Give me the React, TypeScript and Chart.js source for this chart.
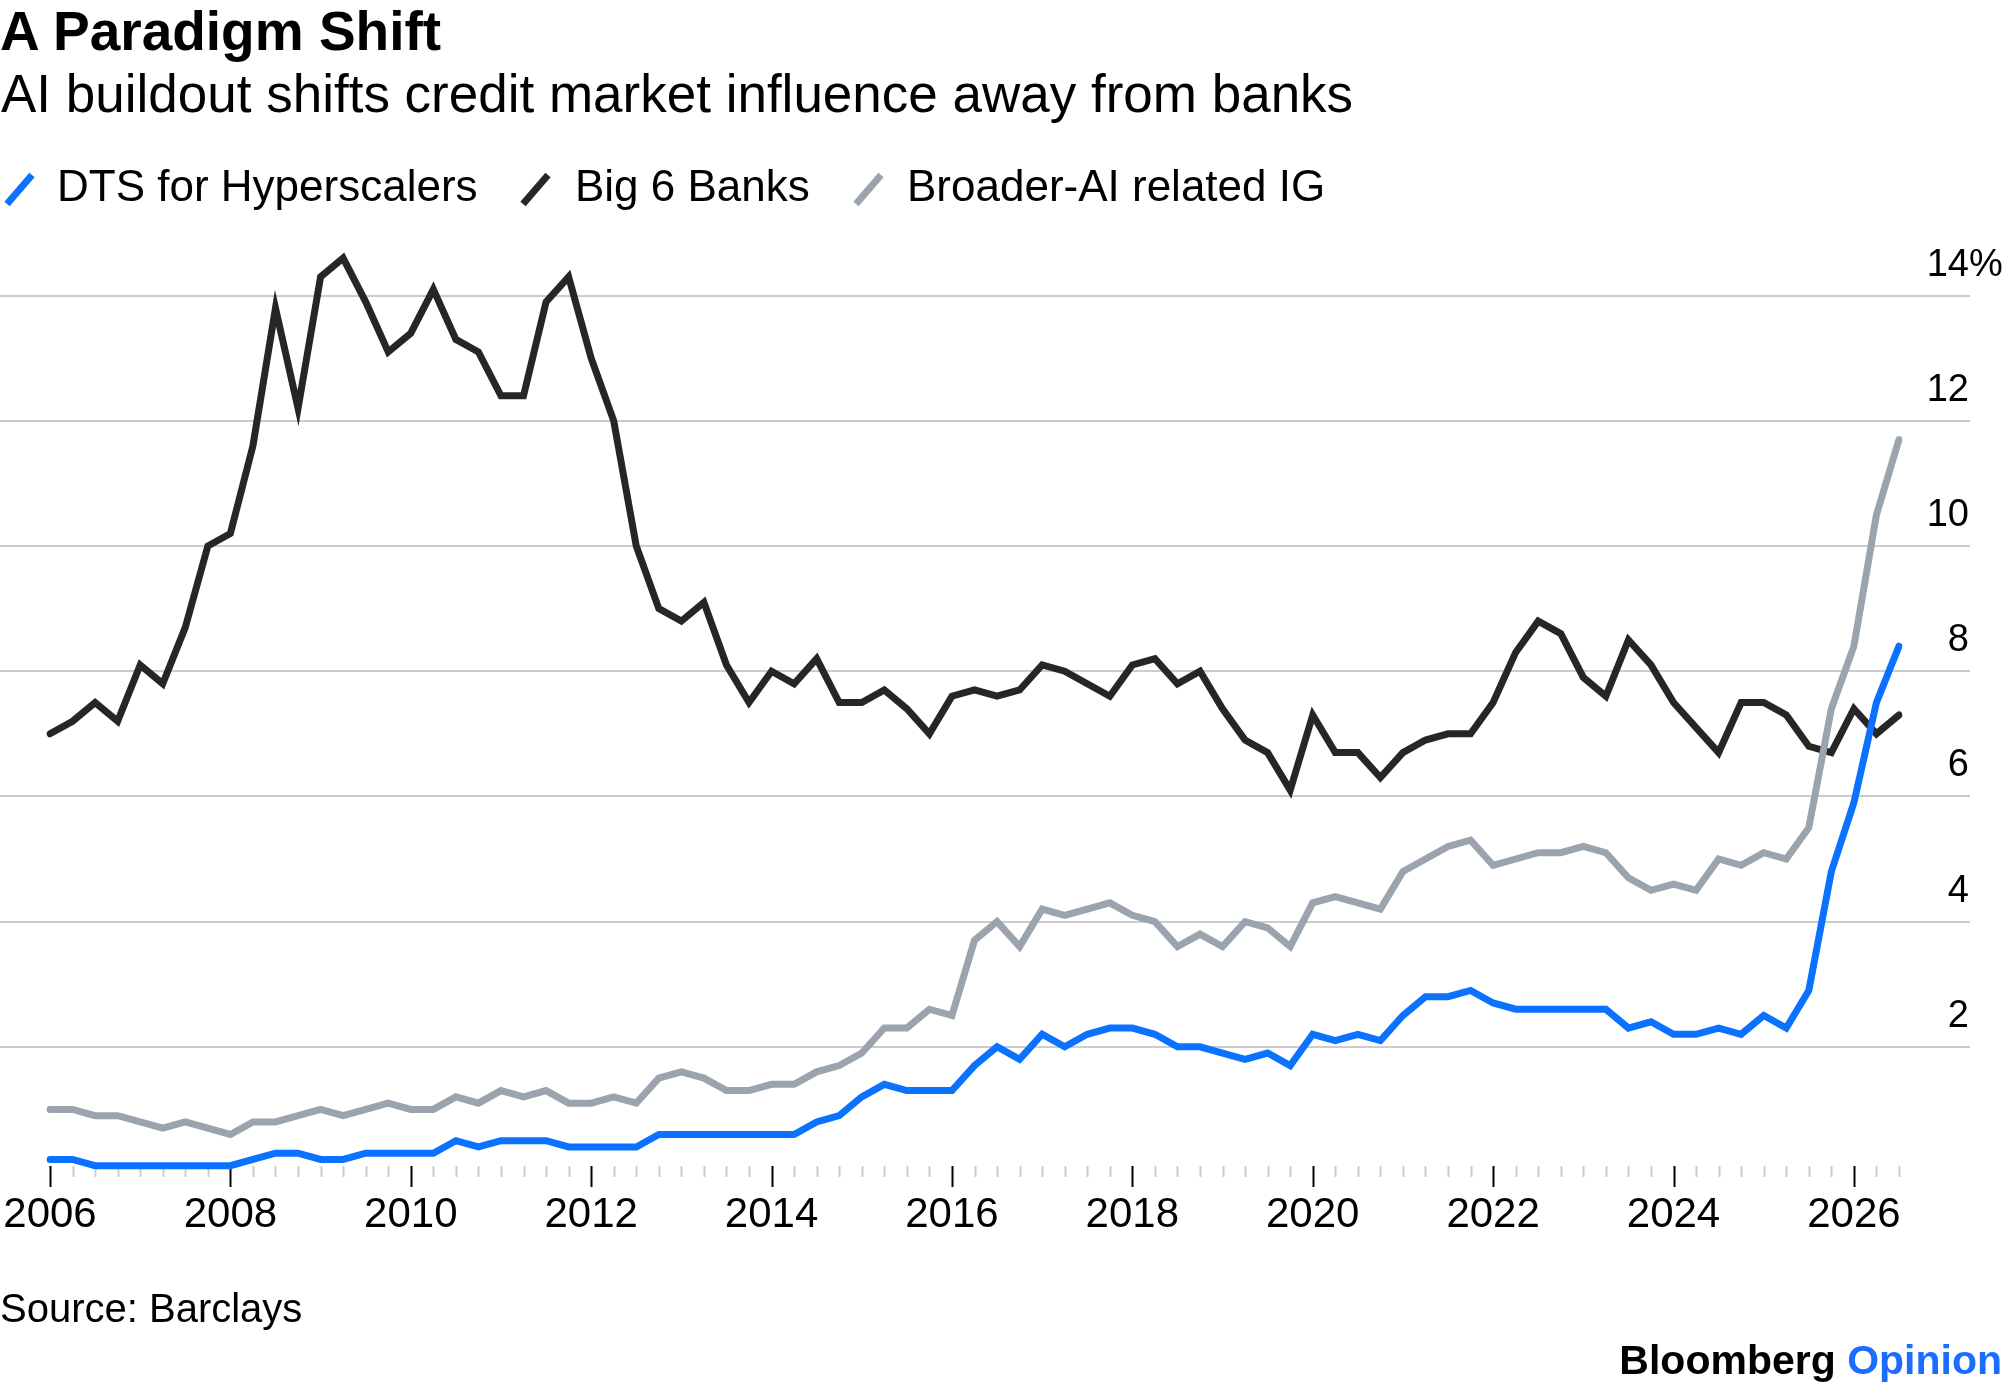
import { useEffect, useRef } from "react"
import { Chart, registerables } from "chart.js"

Chart.register(...registerables)

const FONT = '"Liberation Sans", Arial, Helvetica, sans-serif'

// quarterly observations, 2006 Q1 through 2026 Q3
const firstYear = 2006
const pointCount = 83
const quarters: string[] = []
for (let i = 0; i < pointCount; i++) {
  quarters.push(`${firstYear + Math.floor(i / 4)} Q${(i % 4) + 1}`)
}

const tickYears = [2006, 2008, 2010, 2012, 2014, 2016, 2018, 2020, 2022, 2024, 2026]
const yTicks = [2, 4, 6, 8, 10, 12, 14]

const hyperscalers = [
  0.2, 0.2, 0.1, 0.1, 0.1, 0.1, 0.1, 0.1, 0.1, 0.2, 0.3, 0.3, 0.2, 0.2, 0.3, 0.3,
  0.3, 0.3, 0.5, 0.4, 0.5, 0.5, 0.5, 0.4, 0.4, 0.4, 0.4, 0.6, 0.6, 0.6, 0.6, 0.6,
  0.6, 0.6, 0.8, 0.9, 1.2, 1.4, 1.3, 1.3, 1.3, 1.7, 2.0, 1.8, 2.2, 2.0, 2.2, 2.3,
  2.3, 2.2, 2.0, 2.0, 1.9, 1.8, 1.9, 1.7, 2.2, 2.1, 2.2, 2.1, 2.5, 2.8, 2.8, 2.9,
  2.7, 2.6, 2.6, 2.6, 2.6, 2.6, 2.3, 2.4, 2.2, 2.2, 2.3, 2.2, 2.5, 2.3, 2.9, 4.8,
  5.9, 7.5, 8.4,
]

const big6Banks = [
  7.0, 7.2, 7.5, 7.2, 8.1, 7.8, 8.7, 10.0, 10.2, 11.6, 13.8, 12.2, 14.3, 14.6, 13.9, 13.1,
  13.4, 14.1, 13.3, 13.1, 12.4, 12.4, 13.9, 14.3, 13.0, 12.0, 10.0, 9.0, 8.8, 9.1, 8.1, 7.5,
  8.0, 7.8, 8.2, 7.5, 7.5, 7.7, 7.4, 7.0, 7.6, 7.7, 7.6, 7.7, 8.1, 8.0, 7.8, 7.6,
  8.1, 8.2, 7.8, 8.0, 7.4, 6.9, 6.7, 6.1, 7.3, 6.7, 6.7, 6.3, 6.7, 6.9, 7.0, 7.0,
  7.5, 8.3, 8.8, 8.6, 7.9, 7.6, 8.5, 8.1, 7.5, 7.1, 6.7, 7.5, 7.5, 7.3, 6.8, 6.7,
  7.4, 7.0, 7.3,
]

const broaderAI = [
  1.0, 1.0, 0.9, 0.9, 0.8, 0.7, 0.8, 0.7, 0.6, 0.8, 0.8, 0.9, 1.0, 0.9, 1.0, 1.1,
  1.0, 1.0, 1.2, 1.1, 1.3, 1.2, 1.3, 1.1, 1.1, 1.2, 1.1, 1.5, 1.6, 1.5, 1.3, 1.3,
  1.4, 1.4, 1.6, 1.7, 1.9, 2.3, 2.3, 2.6, 2.5, 3.7, 4.0, 3.6, 4.2, 4.1, 4.2, 4.3,
  4.1, 4.0, 3.6, 3.8, 3.6, 4.0, 3.9, 3.6, 4.3, 4.4, 4.3, 4.2, 4.8, 5.0, 5.2, 5.3,
  4.9, 5.0, 5.1, 5.1, 5.2, 5.1, 4.7, 4.5, 4.6, 4.5, 5.0, 4.9, 5.1, 5.0, 5.5, 7.4,
  8.4, 10.5, 11.7,
]

const BLUE = "#0a72ff"
const BLACK = "#262626"
const GREY = "#9aa3ae"

const legendItems = [
  { label: "DTS for Hyperscalers", color: BLUE, swatch: 2, text: 57 },
  { label: "Big 6 Banks", color: BLACK, swatch: 518, text: 575 },
  { label: "Broader-AI related IG", color: GREY, swatch: 851, text: 907 },
]

const decor = {
  id: "decor",
  beforeDatasetsDraw(chart: Chart) {
    const { ctx } = chart
    const xs = chart.scales.x
    const ys = chart.scales.y
    const base = ys.getPixelForValue(0)
    ctx.save()
    // horizontal gridlines, running past the plot to the labels
    ctx.strokeStyle = "#cccccc"
    ctx.lineWidth = 2
    yTicks.forEach((v) => {
      const y = Math.round(ys.getPixelForValue(v))
      ctx.beginPath()
      ctx.moveTo(0, y)
      ctx.lineTo(1970, y)
      ctx.stroke()
    })
    // quarter ticks, with a taller dark mark on labelled years
    quarters.forEach((q, i) => {
      const x = Math.round(xs.getPixelForValue(i)) + 0.5
      const year = Number(q.slice(0, 4))
      const major = q.endsWith("Q1") && tickYears.includes(year)
      ctx.strokeStyle = major ? "#000000" : "#cccccc"
      ctx.lineWidth = 2
      ctx.beginPath()
      ctx.moveTo(x, base - 6)
      ctx.lineTo(x, major ? base + 15 : base + 5)
      ctx.stroke()
    })
    ctx.restore()
  },
  afterDraw(chart: Chart) {
    const { ctx } = chart
    const xs = chart.scales.x
    const ys = chart.scales.y
    const base = ys.getPixelForValue(0)
    ctx.save()
    ctx.fillStyle = "#000000"
    ctx.textBaseline = "alphabetic"
    ctx.font = `38px ${FONT}`
    yTicks.forEach((v, i) => {
      const y = ys.getPixelForValue(v) - 20
      ctx.textAlign = "right"
      ctx.fillText(String(v), 1969, y)
      if (i === yTicks.length - 1) {
        ctx.textAlign = "left"
        ctx.fillText("%", 1969, y)
      }
    })
    ctx.font = `42px ${FONT}`
    ctx.textAlign = "center"
    tickYears.forEach((yr) => {
      const idx = quarters.indexOf(`${yr} Q1`)
      ctx.fillText(String(yr), xs.getPixelForValue(idx), base + 55)
    })
    ctx.restore()
  },
}

const Swatch = ({ color, left }: { color: string; left: number }) => (
  <svg width={36} height={36} style={{ position: "absolute", left, top: 171 }}>
    <line x1={5} y1={33} x2={30} y2={4} stroke={color} strokeWidth={7} />
  </svg>
)

const App = () => {
  const canvasRef = useRef<HTMLCanvasElement | null>(null)
  const chartRef = useRef<Chart | null>(null)

  useEffect(() => {
    if (!canvasRef.current) return
    if (chartRef.current) chartRef.current.destroy()
    const line = (label: string, data: number[], color: string, order: number) => ({
      label,
      data,
      borderColor: color,
      backgroundColor: color,
      borderWidth: 7,
      borderCapStyle: "round" as const,
      pointRadius: 0,
      tension: 0,
      fill: false,
      order,
    })
    chartRef.current = new Chart(canvasRef.current, {
      type: "line",
      data: {
        labels: quarters,
        datasets: [
          line("DTS for Hyperscalers", hyperscalers, BLUE, 0),
          line("Big 6 Banks", big6Banks, BLACK, 2),
          line("Broader-AI related IG", broaderAI, GREY, 1),
        ],
      },
      options: {
        animation: false,
        responsive: false,
        events: [],
        layout: { padding: { left: 50, right: 106, top: 233, bottom: 220 } },
        plugins: {
          legend: { display: false },
          tooltip: { enabled: false },
        },
        scales: {
          x: { type: "category", display: false, offset: false },
          y: { type: "linear", display: false, min: 0, max: 15 },
        },
      },
      plugins: [decor],
    })
    return () => {
      if (chartRef.current) {
        chartRef.current.destroy()
        chartRef.current = null
      }
    }
  }, [])

  return (
    <div
      style={{
        position: "absolute",
        left: 0,
        top: 0,
        width: 2005,
        height: 1392,
        background: "#ffffff",
        fontFamily: FONT,
        color: "#000000",
        lineHeight: 1,
        overflow: "hidden",
      }}
    >
      <canvas ref={canvasRef} width={2005} height={1392} style={{ position: "absolute", left: 0, top: 0 }} />
      <div style={{ position: "absolute", left: 0, top: 4, fontSize: 55, fontWeight: 700, whiteSpace: "nowrap" }}>
        A Paradigm Shift
      </div>
      <div style={{ position: "absolute", left: 1, top: 67, fontSize: 53, whiteSpace: "nowrap" }}>
        AI buildout shifts credit market influence away from banks
      </div>
      {legendItems.map((item) => (
        <div key={item.label}>
          <Swatch color={item.color} left={item.swatch} />
          <div style={{ position: "absolute", left: item.text, top: 164, fontSize: 44, whiteSpace: "nowrap" }}>
            {item.label}
          </div>
        </div>
      ))}
      <div style={{ position: "absolute", left: 0, top: 1288, fontSize: 40, whiteSpace: "nowrap" }}>
        Source: Barclays
      </div>
      <div style={{ position: "absolute", right: 3, top: 1340, fontSize: 41, fontWeight: 700, whiteSpace: "nowrap" }}>
        Bloomberg <span style={{ color: "#1a6dff" }}>Opinion</span>
      </div>
    </div>
  )
}

export default App
